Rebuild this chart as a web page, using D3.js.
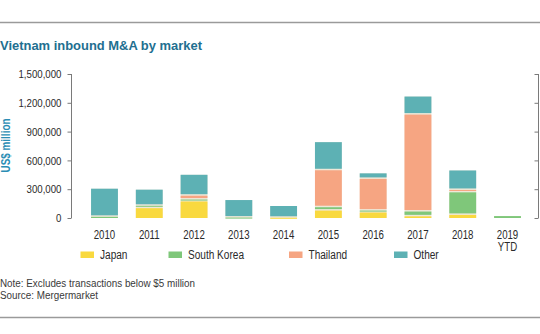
<!DOCTYPE html>
<html>
<head>
<meta charset="utf-8">
<script src="https://cdn.jsdelivr.net/npm/d3@7"></script>
<style>
  html, body { margin: 0; padding: 0; background: #fff; }
  svg { display: block; }
  text { font-family: "Liberation Sans", Arial, sans-serif; }
</style>
</head>
<body>
<script>
const years = ["2010", "2011", "2012", "2013", "2014", "2015", "2016", "2017", "2018", "2019|YTD"];
const japan      = [0, 110000, 180000, 0, 10000, 85000, 65000, 25000, 40000, 0];
const southKorea = [20000, 25000, 20000, 12000, 0, 35000, 20000, 50000, 235000, 20000];
const thailand   = [0, 0, 40000, 0, 0, 385000, 330000, 1010000, 25000, 0];
const other      = [285000, 160000, 210000, 175000, 115000, 285000, 50000, 180000, 195000, 0];
const seriesNames = ["Japan", "South Korea", "Thailand", "Other"];
const yTicks = [0, 300000, 600000, 900000, 1200000, 1500000];
const colors = ["#f9d93f", "#7fc77a", "#f6a582", "#5db1b4"];

const W = 540, H = 334;
const svg = d3.select("body").append("svg").attr("width", W).attr("height", H);

// horizontally condense a text so that a sample string reaches a target width
function condense(nodes, ratio) {
  nodes.each(function() {
    const w = this.getComputedTextLength();
    if (w > 0) {
      this.setAttribute("textLength", (w * ratio).toFixed(2));
      this.setAttribute("lengthAdjust", "spacingAndGlyphs");
    }
  });
}
function ratioFor(node, target) {
  const w = node.getComputedTextLength();
  return w > 0 ? target / w : 1;
}

// frame lines
svg.append("line").attr("x1", 0).attr("x2", W).attr("y1", 22.5).attr("y2", 22.5)
  .attr("stroke", "#9a9a9a").attr("stroke-width", 1.5);
svg.append("line").attr("x1", 0).attr("x2", W).attr("y1", 317.5).attr("y2", 317.5)
  .attr("stroke", "#9a9a9a").attr("stroke-width", 1.5);

// title
const title = svg.append("text").attr("x", 0).attr("y", 50)
  .attr("fill", "#226f90").attr("font-size", 13.5).attr("font-weight", "bold")
  .text("Vietnam inbound M&A by market");
condense(title, ratioFor(title.node(), 202));

const x = d3.scaleBand().domain(years).range([82.1, 529.9]).paddingInner(0.4).paddingOuter(0.2);
const y = d3.scaleLinear().domain([0, 1500000]).range([218, 74]);

const table = years.map((yr, i) => ({
  year: yr, Japan: japan[i], "South Korea": southKorea[i], Thailand: thailand[i], Other: other[i]
}));
const stack = d3.stack().keys(seriesNames)(table);
const total = d => d3.sum(seriesNames, k => d[k]);

// underlay (gap colour between segments)
svg.append("g").selectAll("rect").data(table).join("rect")
  .attr("x", d => x(d.year))
  .attr("width", x.bandwidth())
  .attr("y", d => y(total(d)))
  .attr("height", d => y(0) - y(total(d)))
  .attr("fill", "#eee8d8");

const g = svg.append("g");
stack.forEach((layer, li) => {
  g.append("g").attr("fill", colors[li]).selectAll("rect")
    .data(layer.filter(d => d[1] - d[0] > 0)).join("rect")
    .attr("x", d => x(d.data.year))
    .attr("width", x.bandwidth())
    .attr("y", d => y(d[1]) + (d[1] === total(d.data) ? 0 : 0.75))
    .attr("height", d => {
      const top = d[1] === total(d.data) ? 0 : 0.75;
      const bot = d[0] === 0 ? 0 : 0.75;
      return Math.max(1, y(d[0]) - y(d[1]) - top - bot);
    });
});

// left axis
const yAxis = d3.axisLeft(y).tickValues(yTicks).tickSize(4).tickPadding(6)
  .tickFormat(d3.format(","));
const ya = svg.append("g").attr("transform", "translate(71.5,0)").call(yAxis);
ya.select(".domain").attr("stroke", "#7a7a7a").attr("d", "M0," + y(1500000) + "V" + y(0));
ya.selectAll(".tick line").attr("stroke", "#7a7a7a");
const yTexts = ya.selectAll(".tick text").attr("fill", "#2a2a2a").attr("font-size", 11.5)
  .attr("font-family", "'Liberation Sans', Arial, sans-serif");
const topTick = yTexts.filter(d => d === 1500000).node();
condense(yTexts, ratioFor(topTick, 43));

// right (cut-off) axis
const yAxisR = d3.axisLeft(y).tickValues(yTicks).tickSize(4).tickFormat("");
const yr = svg.append("g").attr("transform", "translate(538.5,0)").call(yAxisR);
yr.select(".domain").attr("stroke", "#7a7a7a").attr("d", "M0," + y(1500000) + "V" + y(0));
yr.selectAll(".tick line").attr("stroke", "#7a7a7a");

// y label
const yl = svg.append("text").attr("transform", "translate(10,145.5) rotate(-90)")
  .attr("text-anchor", "middle").attr("fill", "#2b8db4").attr("font-size", 12).attr("font-weight", "bold")
  .text("US$ million");
condense(yl, ratioFor(yl.node(), 54));

// x labels
const xl = svg.append("g").selectAll("text").data(years).join("text")
  .attr("x", d => x(d) + x.bandwidth() / 2)
  .attr("y", 239)
  .attr("text-anchor", "middle").attr("fill", "#2a2a2a").attr("font-size", 12);
xl.each(function(d) {
  const parts = d.split("|");
  const t = d3.select(this);
  parts.forEach((p, i) => t.append("tspan").attr("x", x(d) + x.bandwidth() / 2).attr("dy", i === 0 ? 0 : 11.5).text(p));
});
const spans = xl.selectAll("tspan");
condense(spans, ratioFor(spans.node(), 21.5));

// legend
const legendX = [80.5, 168.5, 289, 394];
const lg = svg.append("g");
const legTexts = [];
seriesNames.forEach((n, i) => {
  lg.append("rect").attr("x", legendX[i]).attr("y", 251.5).attr("width", 13.5).attr("height", 6.5).attr("fill", colors[i]);
  legTexts.push(lg.append("text").attr("x", legendX[i] + 19.5).attr("y", 258.5).attr("fill", "#2a2a2a").attr("font-size", 12).text(n).node());
});
condense(d3.selectAll(legTexts), ratioFor(legTexts[1], 56));

// notes
const n1 = svg.append("text").attr("x", 0).attr("y", 286.5).attr("fill", "#3a3a3a").attr("font-size", 10)
  .text("Note: Excludes transactions below $5 million");
const rn = ratioFor(n1.node(), 195);
condense(n1, rn);
const n2 = svg.append("text").attr("x", 0).attr("y", 298.5).attr("fill", "#3a3a3a").attr("font-size", 10)
  .text("Source: Mergermarket");
condense(n2, rn);
</script>
</body>
</html>
